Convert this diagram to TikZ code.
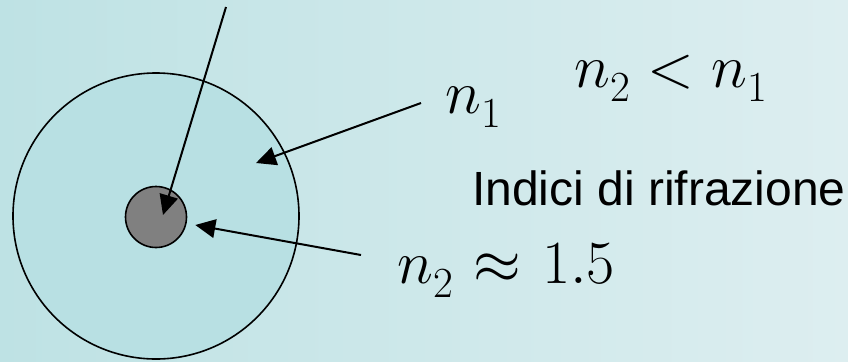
\RequirePackage{fix-cm}
\documentclass[tikz,border=0pt]{standalone}
\usepackage{amsmath}
\usepackage{fontspec}
\newfontfamily\arialfont{Liberation Sans}
\usepackage{tikz}
\usetikzlibrary{positioning, arrows.meta}

\definecolor{bgleft}{RGB}{190,226,228}
\definecolor{bgright}{RGB}{221,238,240}
\definecolor{cladfill}{RGB}{184,224,227}
% subscript set a little lower, as in the slide
\newcommand{\lowsub}[1]{_{\raisebox{-4pt}{$\scriptstyle #1$}}}

\begin{document}
\begin{tikzpicture}[
  x=0.75pt, y=-0.75pt,
  >={Triangle[length=15pt,width=14pt]},
  cladding/.style={draw, circle, line width=1.2pt, fill=cladfill, minimum size=214.5pt, inner sep=0pt},
  corenode/.style={draw, circle, line width=1.2pt, fill=gray, minimum size=45.75pt, inner sep=0pt},
  mathlbl/.style={inner sep=0pt, anchor=base west, font=\fontsize{46}{54}\selectfont},
  textlbl/.style={inner sep=0pt, anchor=base west, font=\arialfont\fontsize{36}{42}\selectfont}
]
  \shade[left color=bgleft, right color=bgright] (0,0) rectangle (848,361);
  \useasboundingbox (0,0) rectangle (848,361);
  \node[cladding] (clad) at (156,216) {};
  \node[corenode] (core) at (156,217) {};
  \node[mathlbl] (n1) at (445,113) {$n\lowsub{1}$};
  \node[mathlbl] (rel) at (574,87) {$n\lowsub{2} < n\lowsub{1}$};
  \node[textlbl] (idx) at (472,205) {Indici di rifrazione};
  \node[mathlbl] (n2) at (397,283) {$n\lowsub{2} \mkern1mu\approx\mkern1mu 1.5$};
  \coordinate (ray) at (226,7);
  \coordinate (n1tail) at (421,103);
  \coordinate (n2tail) at (361,255);
  \coordinate (cladpt) at (256,163);
  \draw[->, line width=1.5pt] (ray) -- ([shift={(7,-2)}]core.center);
  \draw[->, line width=1.5pt] (n1tail) -- (cladpt);
  \draw[->, line width=1.5pt] (n2tail) -- ([shift={(8,8)}]core.east);
\end{tikzpicture}
\end{document}
